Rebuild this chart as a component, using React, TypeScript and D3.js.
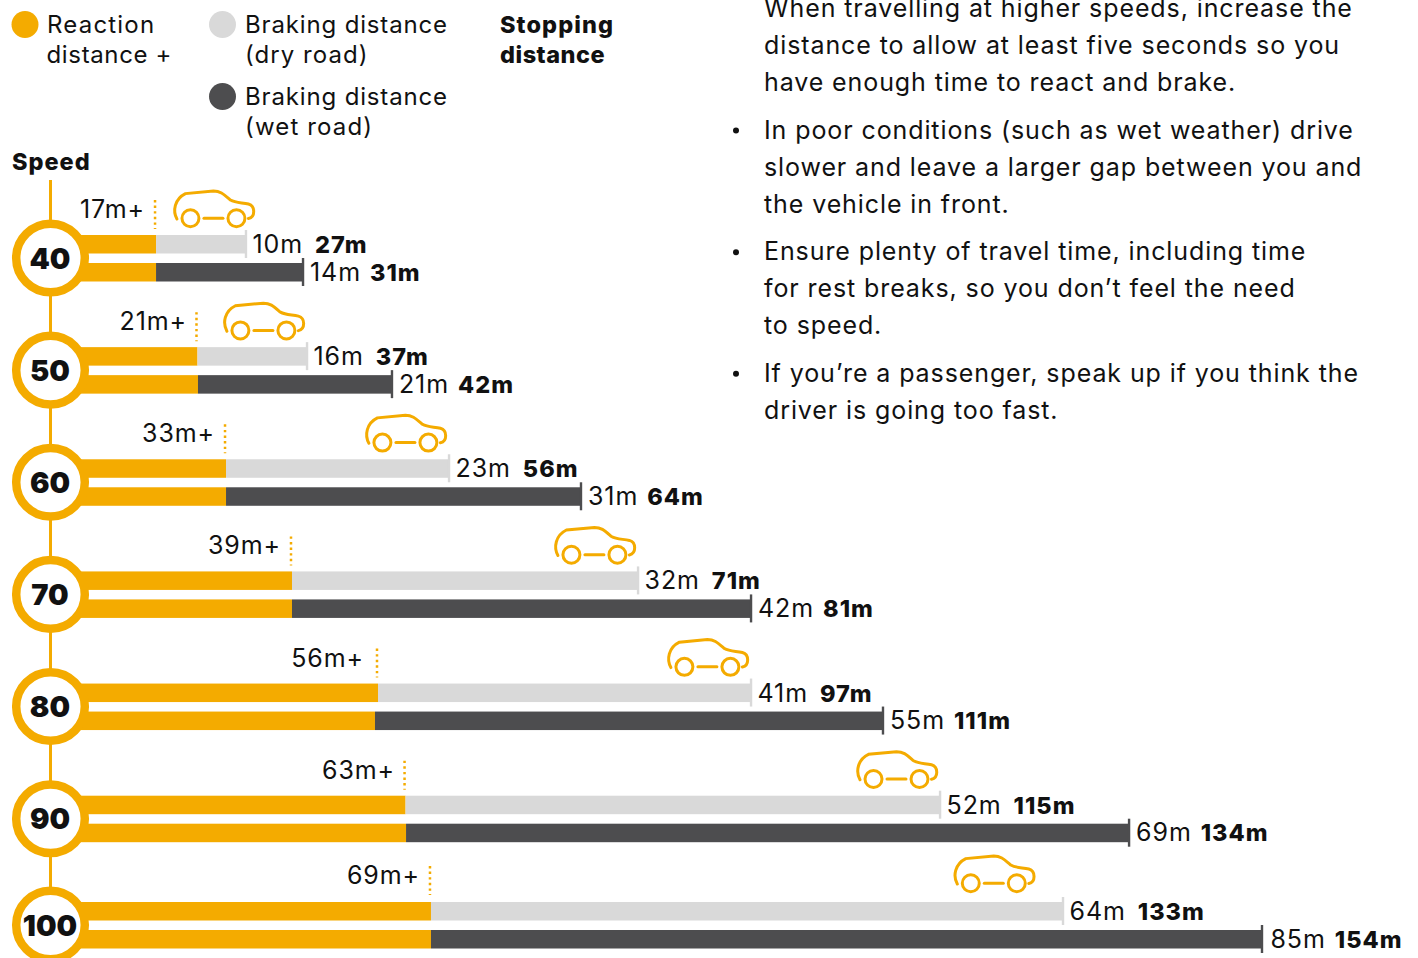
import React from "react";
import * as d3 from "d3";

const speeds = [40, 50, 60, 70, 80, 90, 100];
const reactionLabels = [17, 21, 33, 39, 56, 63, 69];
const dryLabels = [10, 16, 23, 32, 41, 52, 64];
const wetLabels = [14, 21, 31, 42, 55, 69, 85];
const dryTotals = [27, 37, 56, 71, 97, 115, 133];
const wetTotals = [31, 42, 64, 81, 111, 134, 154];

// Bar extents as drawn in the picture (the source artwork is not to scale), in chart units
const reactionDryDrawn = [18.72, 23.79, 27.28, 35.35, 45.87, 49.24, 52.35];
const reactionWetDrawn = [18.72, 23.85, 27.28, 35.35, 45.5, 49.3, 52.35];
const dryEndDrawn = [29.72, 37.19, 54.56, 77.68, 91.5, 114.62, 129.66];
const wetEndDrawn = [36.7, 47.58, 70.7, 91.5, 107.64, 137.74, 154];
const carDrawn = [20.85, 26.96, 44.33, 67.45, 81.27, 104.4, 116.3];

const paragraphs = [
  { bullet: false, lines: ["When travelling at higher speeds, increase the", "distance to allow at least five seconds so you", "have enough time to react and brake."] },
  { bullet: true, lines: ["In poor conditions (such as wet weather) drive", "slower and leave a larger gap between you and", "the vehicle in front."] },
  { bullet: true, lines: ["Ensure plenty of travel time, including time", "for rest breaks, so you don\u2019t feel the need", "to speed."] },
  { bullet: true, lines: ["If you\u2019re a passenger, speak up if you think the", "driver is going too fast."] },
];

const ORANGE = "#F4AB00";
const LIGHT = "#D9D9D9";
const DARK = "#4D4D4F";
const INK = "#111111";
const FONT = "Inter, 'Noto Sans', sans-serif";

const x = d3.scaleLinear().domain([0, 154]).range([3, 1262]);
const y = d3.scaleLinear().domain([40, 90, 100]).range([258, 818.7, 925]);

function Car({ left, cy }: { left: number; cy: number }) {
  return (
    <g transform={`translate(${left},${cy - 68})`} fill="none" stroke={ORANGE} strokeWidth={3} strokeLinecap="round">
      <path d="M3.5 29 C-1 21 1 9 12 3.6 L40 1 C47 1 50 4 57 10 C62 13 68 12.5 75 14 C82 16 82 27 75 28.5" />
      <circle cx={17} cy={28.3} r={8.5} />
      <circle cx={63} cy={28.3} r={8.5} />
      <path d="M30.5 28.3 H49.5" />
    </g>
  );
}

export default function App() {
  const legendStyle = { fontFamily: FONT, fontSize: 24, fill: INK, letterSpacing: 0.95 } as const;
  const textStyle = { fontFamily: FONT, fontSize: 25, fill: INK, letterSpacing: 0.9 } as const;
  const boldStyle = { fontFamily: FONT, fontSize: 23.5, fontWeight: 800, fill: INK, letterSpacing: 1.0 } as const;
  let lineY = 17;
  return (
    <svg width={1418} height={958} viewBox="0 0 1418 958" style={{ position: "absolute", left: 0, top: 0, background: "#fff" }}>
      {/* Legend */}
      <circle cx={25} cy={24.5} r={13.5} fill={ORANGE} />
      <circle cx={222.5} cy={24.5} r={13.5} fill={LIGHT} />
      <circle cx={222.5} cy={96.5} r={13.5} fill={DARK} />
      <g style={legendStyle}>
        <text x={47} y={33} letterSpacing={1.2}>Reaction</text>
        <text x={46.5} y={63} letterSpacing={0.65}>distance +</text>
        <text x={245} y={33} letterSpacing={0.85}>Braking distance</text>
        <text x={245} y={63} letterSpacing={1.05}>(dry road)</text>
        <text x={245} y={105} letterSpacing={0.85}>Braking distance</text>
        <text x={245} y={135} letterSpacing={1.15}>(wet road)</text>
      </g>
      <g style={boldStyle}>
        <text x={500} y={33} letterSpacing={1.1}>Stopping</text>
        <text x={500} y={63} letterSpacing={0.5}>distance</text>
        <text x={12} y={170}>Speed</text>
      </g>

      {/* Speed spine */}
      <line x1={50.5} x2={50.5} y1={180} y2={900} stroke={ORANGE} strokeWidth={3} />

      {speeds.map((s, i) => {
        const cy = y(s);
        const x0 = x(reactionDryDrawn[i]);
        const x0w = x(reactionWetDrawn[i]);
        const xd = x(dryEndDrawn[i]);
        const xw = x(wetEndDrawn[i]);
        const last = i === speeds.length - 1;
        return (
          <g key={s}>
            <rect x={60} y={cy - 23} width={x0 - 60} height={18.5} fill={ORANGE} />
            <rect x={x0} y={cy - 23} width={xd - x0} height={18.5} fill={LIGHT} />
            <rect x={60} y={cy + 5} width={x0w - 60} height={18.5} fill={ORANGE} />
            <rect x={x0w} y={cy + 5} width={xw - x0w} height={18.5} fill={DARK} />
            <line x1={xd} x2={xd} y1={cy - 28} y2={cy} stroke={LIGHT} strokeWidth={2.4} />
            <line x1={xw} x2={xw} y1={cy} y2={cy + 28} stroke={DARK} strokeWidth={2.4} />

            <circle cx={50.5} cy={cy} r={34.3} fill="#fff" stroke={ORANGE} strokeWidth={8.5} />
            <text x={50} y={cy + 10.5} textAnchor="middle" style={{ fontFamily: FONT, fontSize: 29, fontWeight: 900, fill: INK }}>{s}</text>

            <line x1={x0 - 1} x2={x0 - 1} y1={cy - (last ? 59 : 58)} y2={cy - (last ? 30 : 29)} stroke={ORANGE} strokeWidth={2.5} strokeDasharray="2.4 3.2" />
            <text x={x0w - 11} y={cy - (last ? 41 : 40)} textAnchor="end" style={textStyle}>{reactionLabels[i]}m+</text>

            <Car left={x(carDrawn[i])} cy={cy - (last ? 2 : 0)} />

            <text x={xd + 6.5} y={cy - 5} style={textStyle}>
              {dryLabels[i]}m
              <tspan dx={12} style={boldStyle}>{dryTotals[i]}m</tspan>
            </text>
            <text x={xw + (last ? 8.5 : 7)} y={cy + 22.5} style={textStyle}>
              {wetLabels[i]}m
              <tspan dx={9} style={boldStyle}>{wetTotals[i]}m</tspan>
            </text>
          </g>
        );
      })}

      {/* Advice text */}
      <g style={textStyle}>
        {paragraphs.map((p, pi) => {
          const start = pi === 0 ? lineY : lineY + 10.6;
          const nodes = (
            <g key={pi}>
              {p.bullet && <circle cx={736} cy={start - 8} r={3} fill={INK} />}
              {p.lines.map((l, li) => (
                <text key={li} x={764} y={start + li * 37}>{l}</text>
              ))}
            </g>
          );
          lineY = start + p.lines.length * 37;
          return nodes;
        })}
      </g>
    </svg>
  );
}
